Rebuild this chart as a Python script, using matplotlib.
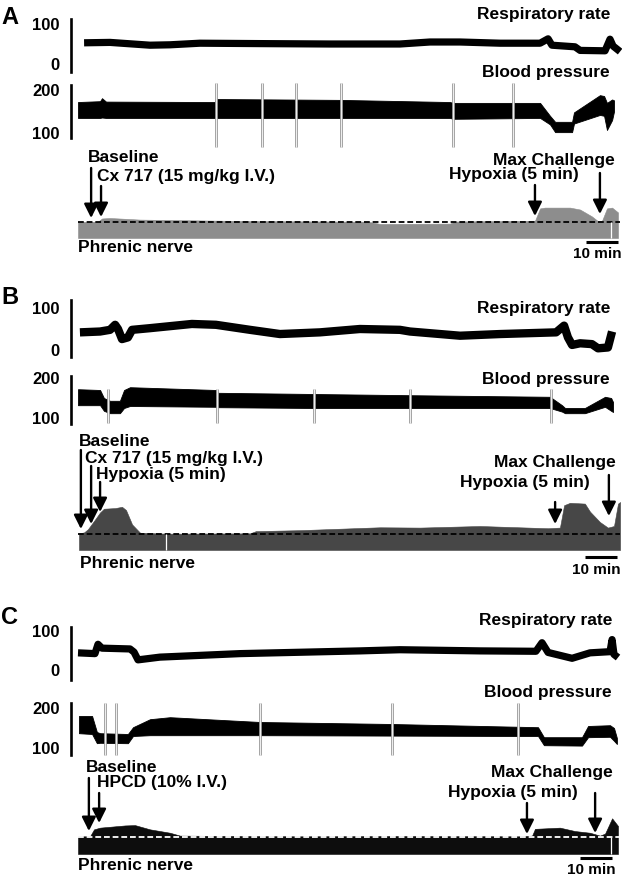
import matplotlib
matplotlib.use('Agg')
import matplotlib.pyplot as plt
import matplotlib.transforms as mtrans

plt.rcParams['font.family'] = ['Liberation Sans', 'DejaVu Sans']
plt.rcParams['font.weight'] = 'bold'

# ---------------- DATA (time in minutes) ----------------
# Panel A
respA_t = [1.9, 10, 22.5, 28.75, 38.1, 56.9, 78.75, 100.6, 110, 119.4, 131.9, 144.4, 146.9, 148.1, 155.3, 156.9, 164.7, 166.25, 167.2, 169.4]
respA_v = [53, 54, 47, 48, 52, 51, 50, 50, 55, 55, 52, 52, 63, 47, 43, 34, 33, 62, 45, 31]
bpA_t = [0, 6.9, 7.5, 8.75, 42.8, 43.1, 81.9, 116.25, 117.2, 144.4, 147.5, 149.1, 154.4, 155, 163.1, 164.4, 165.3, 166.9, 167.5]
bpA_hi = [172, 174, 181, 173, 172, 179, 177, 172, 170, 170, 140, 126, 126, 148, 188, 186, 170, 178, 176]
bpA_lo = [135, 135, 136, 135, 135, 135, 135, 135, 133, 135, 120, 102, 102, 122, 142, 140, 107, 130, 150]
bpA_spikes = [43.1, 57.5, 68.1, 82.2, 117.2, 135.9]
phrA_t = [0, 6.25, 7.5, 10, 19.4, 38.1, 53.75, 69.4, 90.6, 94.4, 116.25, 117.8, 131.9, 142.8, 144.4, 145.9, 153.75, 156.9, 160.6, 162.5, 163.75, 165.3, 166.9, 168.75]
phrA_v = [100, 102, 122, 125, 115, 110, 106, 104, 102, 88, 90, 103, 106, 108, 185, 190, 190, 178, 135, 105, 108, 185, 190, 160]
eventsA = [4.1, 7.2, 142.8, 163.1]  # Baseline, Cx 717, Hypoxia, Max challenge

# Panel B
respB_t = [0.6, 6.9, 10, 11.6, 12.5, 13.75, 15.6, 16.9, 22.5, 35.6, 43.1, 53.75, 63.1, 75.6, 88.1, 100.6, 103.75, 119.4, 131.9, 149.4, 151.9, 153.1, 154.4, 156.9, 160.6, 162.5, 165.6, 166.9]
respB_v = [42, 44, 48, 60, 50, 26, 30, 48, 52, 62, 60, 48, 38, 42, 50, 48, 44, 34, 38, 42, 58, 30, 12, 16, 14, 4, 6, 44]
bpB_t = [0, 6.9, 8.1, 10, 13.1, 14.4, 16.25, 43.1, 43.75, 73.75, 103.75, 147.5, 151.25, 152.2, 158.4, 164.7, 166.6, 167.2]
bpB_hi = [172, 170, 150, 143, 143, 170, 177, 170, 163, 160, 157, 153, 132, 125, 125, 153, 150, 140]
bpB_lo = [132, 132, 118, 112, 112, 125, 130, 128, 127, 125, 125, 125, 116, 112, 112, 128, 118, 115]
bpB_spikes = [9.4, 43.4, 73.75, 103.75, 147.8]
phrB_t = [0.3, 1.9, 3.1, 5.3, 6.9, 8.1, 11.6, 13.75, 15, 16.9, 19.4, 27.5, 53.75, 55.6, 69.4, 94.4, 106.9, 125.6, 146.9, 150.6, 151.9, 153.75, 158.4, 160, 163.1, 165.6, 167.5, 168.75, 169.4]
phrB_v = [104, 110, 130, 190, 235, 258, 262, 270, 250, 160, 108, 102, 104, 118, 124, 142, 140, 150, 136, 140, 280, 295, 290, 240, 175, 140, 150, 290, 300]
eventsB = [0.9, 4.1, 6.9, 149.1, 165.9]  # Baseline, Cx 717, Hypoxia, Hypoxia, Max challenge

# Panel C
respC_t = [0, 5.3, 6.25, 7.5, 16.25, 17.5, 18.75, 25.6, 50.6, 88.1, 100.6, 125.6, 143.1, 145, 146.9, 154.4, 160, 166.25, 166.9, 167.5, 168.75]
respC_v = [44, 42, 66, 56, 54, 46, 26, 33, 42, 49, 52, 49, 48, 70, 45, 30, 44, 47, 78, 40, 32]
bpC_t = [0.3, 4.4, 5.9, 6.9, 15.6, 17.2, 22.5, 28.75, 56.9, 98.1, 138.1, 143.75, 145.6, 157.5, 159.4, 166.25, 167.5, 168.4]
bpC_hi = [180, 180, 140, 137, 135, 152, 172, 177, 165, 160, 153, 152, 127, 127, 155, 157, 150, 125]
bpC_lo = [137, 135, 112, 113, 112, 130, 132, 132, 132, 131, 130, 130, 107, 106, 127, 128, 118, 110]
bpC_spikes = [8.4, 11.9, 56.9, 98.1, 137.5]
phrC_t = [0, 3.75, 5, 6.9, 14.7, 17.8, 22.5, 28.75, 31.9, 69.4, 100.6, 138.1, 141.9, 142.8, 150.6, 155.3, 160, 163.1, 164.7, 166.9, 168.75]
phrC_v = [104, 104, 145, 155, 168, 170, 145, 125, 108, 104, 106, 104, 108, 148, 155, 135, 125, 108, 120, 210, 165]
eventsC = [3.4, 6.6, 140.3, 161.6]  # Baseline, HPCD, Hypoxia, Max challenge

artifactsPhr = {'A': 166.6, 'B': 27.5, 'C': 166.6}
scale_len = 10  # minutes

# ---------------- LAYOUT ----------------
W, H = 625, 881
X0, S = 78.0, 3.2   # pixel of t=0, pixels per minute
fig = plt.figure(figsize=(W / 100, H / 100), dpi=100)


def fx(px):
    return px / W


def fy(py):
    return 1 - py / H


def make_ax(x0, y0, x1, y1, ref):
    (va, pa), (vb, pb) = ref
    k = (va - vb) / (pb - pa)
    ax = fig.add_axes([fx(x0), fy(y1), (x1 - x0) / W, (y1 - y0) / H])
    ax.set_xlim((x0 - X0) / S, (x1 - X0) / S)
    ax.set_ylim(vb - (y1 - pb) * k, va + (pa - y0) * k)
    ax.set_facecolor('none')
    for sp in ax.spines.values():
        sp.set_visible(False)
    ax.set_xticks([])
    ax.set_yticks([])
    ax._k = k
    ax._ref = ref
    return ax


def px2v(ax, py):
    (va, pa), _ = ax._ref
    return va + (pa - py) * ax._k


def bar_axis(ax, ticks, labels, ptop, pbot):
    ax.spines['left'].set_visible(True)
    ax.spines['left'].set_linewidth(1.9)
    ax.spines['left'].set_bounds(px2v(ax, pbot), px2v(ax, ptop))
    ax.set_yticks(ticks)
    ax.set_yticklabels(labels)
    ax.tick_params(axis='y', length=0, pad=8, labelsize=12)
    for l in ax.get_yticklabels():
        l.set_fontweight('bold')


def txt(x, y, s, ha='left', size=12.5):
    fig.text(fx(x), fy(y), s, ha=ha, va='center', fontsize=size, fontweight='bold')


def arrow(ax, t, ytail, ytip):
    ax.annotate('', xy=(t, fy(ytip)), xycoords=('data', 'figure fraction'),
                xytext=(t, fy(ytail)), textcoords=('data', 'figure fraction'),
                arrowprops=dict(arrowstyle='-|>', color='k', lw=1.7,
                                mutation_scale=21, shrinkA=0, shrinkB=0))


def scalebar(ax, t0, ybar, ytxt):
    tr = mtrans.blended_transform_factory(ax.transData, fig.transFigure)
    ax.plot([t0, t0 + scale_len], [fy(ybar), fy(ybar)], color='k', lw=2.2,
            transform=tr, clip_on=False, solid_capstyle='butt')
    ax.text(t0 + scale_len / 2 - 1.5, fy(ytxt), '10 min', transform=tr, ha='center',
            va='center', fontsize=11, fontweight='bold')


def spikes(ax, ts, lo, hi):
    ax.vlines(ts, lo, hi, color='#9c9c9c', lw=2.0, clip_on=False, zorder=3)
    ax.vlines(ts, lo, hi, color='white', lw=0.6, clip_on=False, zorder=4)


def resp_ax(y0, y1, ref, bar, t, v, lw):
    ax = make_ax(71, y0, 622, y1, ref)
    bar_axis(ax, [100, 0], ['100', '0'], *bar)
    ax.plot(t, v, color='k', lw=lw, solid_joinstyle='round', solid_capstyle='butt')
    return ax


def bp_ax(y0, y1, ref, bar, t, hi, lo, sp, sp_lo, sp_hi):
    ax = make_ax(71, y0, 622, y1, ref)
    bar_axis(ax, [200, 100], ['200', '100'], *bar)
    ax.fill_between(t, lo, hi, color='k', lw=0.6, edgecolor='k')
    spikes(ax, sp, sp_lo, sp_hi)
    return ax


def phr_ax(y0, y1, ref, t, v, color, dash_color, art):
    ax = make_ax(71, y0, 622, y1, ref)
    ax.fill_between(t, 0, v, color=color, lw=0.4, edgecolor=color)
    ax.axhline(100, xmin=(78 - 71) / (622 - 71), xmax=(620 - 71) / (622 - 71),
               color=dash_color, lw=1.3, ls=(0, (3.2, 1.6)), zorder=3)
    ax.vlines([art], 0, 100, color='white', lw=0.9, zorder=4)
    return ax


# ---------------- PANEL A ----------------
txt(1, 18, 'A', size=17)
txt(610, 15, 'Respiratory rate', ha='right')
resp_ax(19, 72, ((100, 24), (0, 64)), (19, 72), respA_t, respA_v, 5.2)
txt(610, 72, 'Blood pressure', ha='right')
axA = bp_ax(80, 150, ((200, 90), (100, 133)), (85, 138), bpA_t, bpA_hi, bpA_lo,
            bpA_spikes, 67, 216)
pA = phr_ax(150, 240, ((100, 222), (0, 238)), phrA_t, phrA_v, '#8d8d8d', 'k', artifactsPhr['A'])
txt(88, 158, 'Baseline')
txt(97, 176, 'Cx 717 (15 mg/kg I.V.)')
txt(615, 161, 'Max Challenge', ha='right')
txt(579, 175, 'Hypoxia (5 min)', ha='right')
arrow(pA, eventsA[0], 168, 218)
arrow(pA, eventsA[1], 186, 217)
arrow(pA, eventsA[2], 185, 216)
arrow(pA, eventsA[3], 173, 214)
txt(78, 247, 'Phrenic nerve')
scalebar(pA, 158.75, 242, 254)

# ---------------- PANEL B ----------------
txt(1, 297, 'B', size=17)
txt(610, 309, 'Respiratory rate', ha='right')
resp_ax(300, 357, ((100, 308), (0, 350)), (300, 357), respB_t, respB_v, 6.0)
txt(610, 379, 'Blood pressure', ha='right')
bp_ax(374, 428, ((200, 378), (100, 418)), (376, 424), bpB_t, bpB_hi, bpB_lo,
      bpB_spikes, 88, 172)
pB = phr_ax(430, 552, ((100, 534), (0, 550)), phrB_t, phrB_v, '#474747', 'k', artifactsPhr['B'])
txt(79, 441, 'Baseline')
txt(85, 458, 'Cx 717 (15 mg/kg I.V.)')
txt(96, 474, 'Hypoxia (5 min)')
txt(616, 463, 'Max Challenge', ha='right')
txt(590, 483, 'Hypoxia (5 min)', ha='right')
arrow(pB, eventsB[0], 450, 529)
arrow(pB, eventsB[1], 466, 524)
arrow(pB, eventsB[2], 482, 512)
arrow(pB, eventsB[3], 502, 524)
arrow(pB, eventsB[4], 475, 516)
txt(80, 563, 'Phrenic nerve')
scalebar(pB, 158.4, 557, 570)

# ---------------- PANEL C ----------------
txt(1, 617, 'C', size=17)
txt(612, 621, 'Respiratory rate', ha='right')
resp_ax(627, 680, ((100, 631), (0, 670)), (627, 680), respC_t, respC_v, 5.2)
txt(612, 693, 'Blood pressure', ha='right')
bp_ax(700, 760, ((200, 708), (100, 748)), (703, 755), bpC_t, bpC_hi, bpC_lo,
      bpC_spikes, 82, 212)
pC = phr_ax(760, 856, ((100, 837), (0, 854)), phrC_t, phrC_v, '#0d0d0d', 'white', artifactsPhr['C'])
txt(86, 767, 'Baseline')
txt(97, 783, 'HPCD (10% I.V.)')
txt(613, 772, 'Max Challenge', ha='right')
txt(578, 793, 'Hypoxia (5 min)', ha='right')
arrow(pC, eventsC[0], 778, 831)
arrow(pC, eventsC[1], 793, 823)
arrow(pC, eventsC[2], 803, 834)
arrow(pC, eventsC[3], 793, 833)
txt(78, 865, 'Phrenic nerve')
scalebar(pC, 156.9, 858, 870)

fig.savefig('out.png', dpi=100)
